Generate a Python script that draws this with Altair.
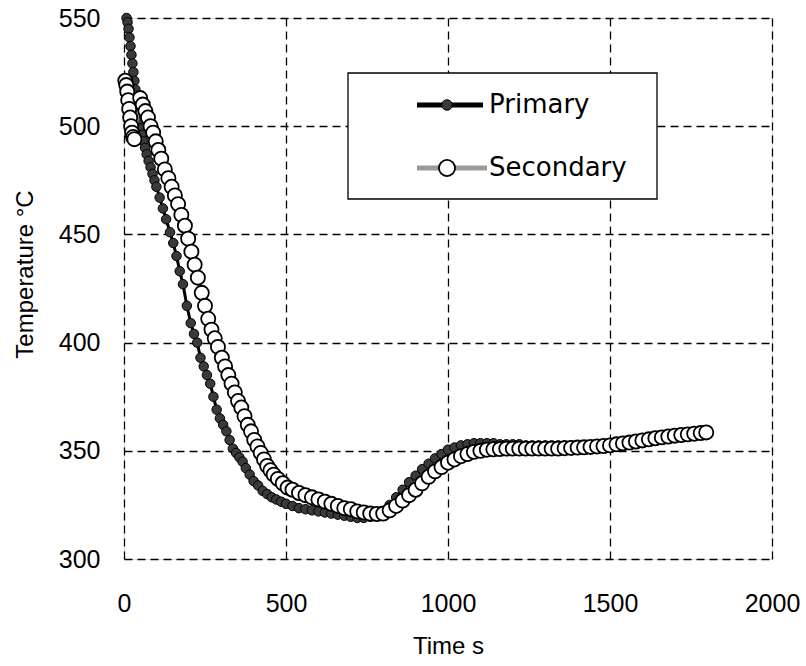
import altair as alt
import pandas as pd

# ---------------- data ----------------
primary_t = [8, 11, 14, 17, 20, 23, 26, 29, 32, 35, 38, 41, 44, 48, 52, 56, 60, 65, 70, 76,
             82, 88, 94, 100, 110, 120, 130, 142, 152, 162, 172, 182, 194, 206, 216, 226, 236, 246, 256, 266,
             276, 286, 296, 306, 316, 326, 336, 346, 356, 366, 376, 388, 400, 414, 428, 442, 456, 470, 485, 500,
             520, 540, 560, 580, 600, 620, 640, 660, 680, 700, 720, 740, 760, 780, 800, 820, 840, 860, 880, 900,
             920, 940, 960, 980, 1000, 1020, 1040, 1060, 1080, 1100, 1120, 1140, 1160, 1180, 1200, 1220, 1240, 1260, 1280, 1300,
             1320, 1340, 1360, 1380, 1400, 1420, 1440, 1460, 1480, 1500, 1520, 1540, 1560, 1580, 1600, 1620, 1640, 1660, 1680, 1700,
             1720, 1740, 1760, 1780, 1795]
primary_T = [550, 548, 545, 541, 537, 533, 529, 525, 521, 517, 513, 509, 506, 502, 499, 496, 493, 490, 487, 484,
             481, 478, 475, 472, 467, 462, 457, 451, 446, 440, 433, 427, 417, 409, 404, 400, 393, 389, 385, 381,
             375, 369, 365, 362, 359, 355, 351, 349, 347, 345, 342, 339, 336, 334, 331.5, 330, 328.5, 327.5, 326.5, 325.5,
             324.5, 323.5, 323, 322.5, 322, 321.5, 321, 320.5, 320, 319.5, 319, 319, 319.5, 320.5, 322, 325, 328.5, 332, 335.5, 338.5,
             341.5, 344, 346.5, 348.5, 350.5, 351.5, 352.5, 353, 353.5, 353.5, 353.5, 353.5, 353, 353, 353, 353, 352.5, 352.5, 352.5, 352.5,
             352.5, 352.5, 352.5, 352.5, 352.5, 352.5, 352.5, 352.5, 352.5, 352.5, 353, 353.5, 354, 354.5, 355, 355.5, 356, 356.5, 357, 357.5,
             358, 358.5, 359, 359, 359]

secondary_t = [4, 7, 10, 13, 16, 19, 22, 25, 28, 32, 50, 58, 66, 74, 82, 90, 98, 106, 115, 126,
               137, 147, 157, 167, 177, 188, 198, 208, 218, 228, 240, 250, 260, 270, 280, 290, 302, 312, 322, 332,
               342, 352, 362, 372, 382, 392, 402, 412, 422, 432, 442, 452, 462, 475, 490, 505, 520, 540, 560, 580,
               600, 620, 640, 660, 680, 700, 720, 740, 760, 780, 800, 820, 840, 860, 880, 900, 920, 940, 960, 980,
               1000, 1020, 1040, 1060, 1080, 1100, 1120, 1140, 1160, 1180, 1200, 1220, 1240, 1260, 1280, 1300, 1320, 1340, 1360, 1380,
               1400, 1420, 1440, 1460, 1480, 1500, 1520, 1540, 1560, 1580, 1600, 1620, 1640, 1660, 1680, 1700, 1720, 1740, 1760, 1780,
               1797]
secondary_T = [521, 519, 516, 512, 508, 504, 500, 497, 495, 494, 513, 510, 507, 504, 500, 497, 493, 489, 485, 480,
               476, 472, 468, 464, 459, 454, 448, 442, 436, 430, 423, 417, 411, 406, 402, 398, 393, 389, 385, 381,
               377, 373, 370, 366, 362, 359, 355, 352, 349, 346, 343, 341, 339, 337, 335, 333, 332, 330.5, 329.5, 328.5,
               327.5, 326.5, 325.5, 324.5, 323.5, 323, 322, 321.5, 321, 320.8, 321, 322.5, 324.5, 327, 329.5, 332, 335, 338, 340.5, 342.5,
               344.5, 346, 347.5, 348.5, 349.5, 350, 350.5, 350.7, 350.8, 351, 351, 351, 351, 351, 351, 351, 351, 351, 351.2, 351.3,
               351.5, 351.6, 351.8, 352, 352.2, 352.5, 353, 353.4, 353.8, 354.3, 354.8, 355.3, 355.8, 356.2, 356.6, 357, 357.3, 357.6, 357.9, 358.2,
               358.5]

legend_labels = ["Primary", "Secondary"]
x_ticks = [0, 500, 1000, 1500, 2000]
y_ticks = [300, 350, 400, 450, 500, 550]

# ---------------- chart ----------------
W, H = 648, 541
prim = pd.DataFrame({"t": primary_t, "T": primary_T})
sec = pd.DataFrame({"t": secondary_t, "T": secondary_T})

xs = alt.Scale(domain=[0, 2000], nice=False, zero=False)
ys = alt.Scale(domain=[300, 550], nice=False, zero=False)

LF = "Liberation Sans"
grid_kw = dict(grid=True, gridDash=[8, 5], gridColor="black", gridWidth=1.3, gridOpacity=1,
               domain=False, ticks=False, labelFontSize=25, labelFont=LF, labelColor="black",
               titleFont=LF, titleFontSize=24, titleFontWeight="normal", titleColor="black",
               labelFlush=False, format="d")
xenc = alt.X("t:Q", scale=xs, axis=alt.Axis(
    values=x_ticks, title="Time s", labelPadding=32, titleY=87, titleBaseline="middle", **grid_kw))
yenc = alt.Y("T:Q", scale=ys, axis=alt.Axis(
    values=y_ticks, title="Temperature °C", labelPadding=24,
    titleX=-99, titleY=256, titleBaseline="middle", titleAlign="center", titleAngle=-90, **grid_kw))

p_line = alt.Chart(prim).mark_line(color="black", strokeWidth=3, clip=False).encode(x=xenc, y=yenc)
p_pts = alt.Chart(prim).mark_point(filled=True, shape="circle", size=90, fill="#3a3a3a",
                                   stroke="black", strokeWidth=1, opacity=1, clip=False).encode(x="t:Q", y="T:Q")
s_line = alt.Chart(sec).mark_line(color="#9a9a9a", strokeWidth=3, clip=False).encode(x="t:Q", y="T:Q")
s_pts = alt.Chart(sec).mark_point(filled=False, shape="circle", size=200, fill="white", fillOpacity=1,
                                  stroke="black", strokeWidth=1.8, opacity=1, clip=False).encode(x="t:Q", y="T:Q")

one = pd.DataFrame({"k": [0]})
box = alt.Chart(one).mark_rect(fill="white", stroke="black", strokeWidth=1.3).encode(
    x=alt.value(224), x2=alt.value(533), y=alt.value(55), y2=alt.value(181))
lg1_line = alt.Chart(one).mark_rule(color="black", strokeWidth=5).encode(
    x=alt.value(293), x2=alt.value(359), y=alt.value(87))
lg1_pt = alt.Chart(one).mark_point(filled=True, shape="circle", size=110, fill="#3a3a3a",
                                    stroke="black", strokeWidth=1, opacity=1).encode(x=alt.value(323), y=alt.value(87))
lg2_line = alt.Chart(one).mark_rule(color="#9a9a9a", strokeWidth=5).encode(
    x=alt.value(293), x2=alt.value(363), y=alt.value(150))
lg2_pt = alt.Chart(one).mark_point(filled=False, shape="circle", size=260, fill="white", fillOpacity=1,
                                    stroke="black", strokeWidth=1.8, opacity=1).encode(x=alt.value(323), y=alt.value(150))
lg_text = alt.Chart(pd.DataFrame({"lab": legend_labels, "yy": [87, 150]})).mark_text(
    align="left", baseline="middle", font="DejaVu Sans", fontSize=26, color="black").encode(
    x=alt.value(365), y=alt.Y("yy:Q", scale=None), text="lab:N")

chart = alt.layer(p_line, p_pts, s_line, s_pts, box, lg1_line, lg1_pt, lg2_line, lg2_pt, lg_text).properties(
    width=W, height=H,
    autosize=alt.AutoSizeParams(type="none"),
    padding={"left": 124, "top": 18, "right": 34, "bottom": 107},
).configure_view(stroke="black", strokeWidth=2).configure(background="white")

chart.save("out.html", embed_options={"renderer": "svg", "actions": False})
